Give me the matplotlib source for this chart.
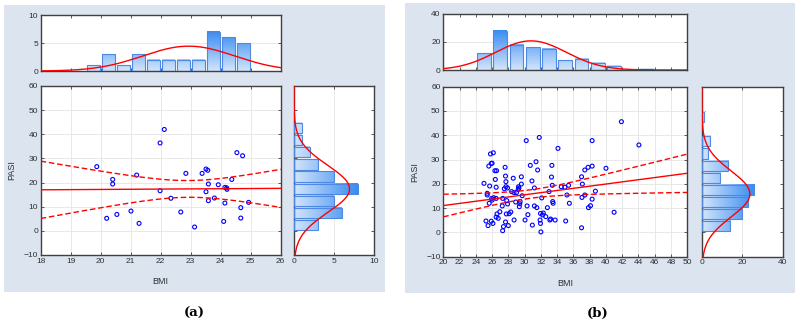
import numpy as np
import matplotlib
matplotlib.use("Agg")
import matplotlib.pyplot as plt
from matplotlib.patches import Rectangle
from matplotlib.colors import LinearSegmentedColormap

plt.rcParams['font.family'] = ['Liberation Sans', 'DejaVu Sans']

# ---- panel (a) data ----
bmi_a = [19.87, 20.2, 20.4, 20.4, 20.54, 21.01, 21.2, 21.28, 21.98, 22.12, 21.98, 22.34,
         22.67, 22.84, 23.13, 23.38, 23.51, 23.57, 23.51, 23.59, 23.59, 23.79, 23.92,
         24.1, 24.14, 24.21, 24.14, 24.37, 24.54, 24.73, 24.67, 24.67, 24.93, 24.2]
pasi_a = [26.6, 5.2, 21.3, 19.4, 6.8, 8.2, 23.1, 3.1, 36.4, 42.0, 16.6, 13.5,
          7.8, 23.8, 1.6, 23.8, 25.6, 25.1, 16.2, 19.4, 12.5, 13.6, 19.1,
          3.9, 18.0, 17.2, 11.5, 21.3, 32.4, 31.1, 9.6, 5.3, 11.8, 17.8]
bmi_edges_a = np.arange(18, 26.01, 0.5)
bmi_counts_a = [0, 0, 0, 1, 3, 1, 3, 2, 2, 2, 2, 7, 6, 5, 0, 0]
pasi_edges_a = np.arange(0, 45.01, 5)
pasi_counts_a = [3, 6, 5, 8, 5, 3, 2, 1, 1]

# ---- panel (b) data ----
bmi_b = [25.0, 25.25, 25.4, 25.4, 25.5, 25.6, 25.7, 25.65, 25.8, 25.9, 25.9, 25.95,
         26.0, 26.1, 26.15, 26.2, 26.35, 26.4, 26.5, 26.55, 26.5, 26.5, 26.6, 26.75, 26.95,
         27.25, 27.3, 27.4, 27.5, 27.6, 27.65, 27.7, 27.7, 27.8, 27.65, 27.75, 27.9, 27.9, 26.0, 27.3,
         28.0, 28.1, 28.3, 28.6, 28.7, 28.7, 29.0, 29.2, 29.25, 29.35, 29.4, 29.45, 29.6, 29.6, 29.7,
         28.4, 29.3, 28.9,
         30.05, 30.2, 30.3, 30.4, 30.7, 30.9, 30.95, 31.2, 31.2, 31.4, 31.5, 31.6, 31.8, 31.9, 31.95, 31.95,
         32.0, 32.1, 32.2, 32.6, 32.8, 33.0, 33.1, 33.3, 33.35, 33.4, 33.45, 33.5, 33.75, 32.3, 33.2,
         34.1, 34.5, 34.95, 35.2, 35.05, 35.4, 35.5,
         37.0, 37.0, 37.05, 37.1, 37.4, 37.4, 37.8, 37.85,
         38.1, 38.3, 38.3, 38.3, 38.7,
         40.0, 41.0, 41.9, 44.05]
pasi_b = [20.2, 4.7, 16.1, 15.4, 2.8, 27.3, 19.1, 12.0, 32.3, 28.4, 4.6, 14.0,
          13.3, 3.7, 32.8, 14.3, 25.4, 21.8, 18.6, 25.4, 14.0, 6.3, 7.6, 5.8, 8.5,
          10.9, 0.7, 2.4, 18.0, 26.8, 23.2, 20.9, 18.8, 13.1, 4.3, 7.6, 18.3, 11.7, 28.5, 14.0,
          2.8, 7.7, 8.4, 22.3, 5.1, 16.4, 16.4, 17.7, 18.8, 10.6, 11.8, 12.7, 22.9, 19.9, 15.1,
          16.8, 18.2, 12.5,
          5.1, 37.8, 10.9, 7.3, 27.6, 21.2, 3.0, 18.3, 10.9, 29.1, 10.2, 25.7, 39.1, 5.1, 7.8, 3.7,
          0.2, 14.2, 7.2, 6.5, 10.2, 16.8, 5.1, 22.8, 27.6, 19.4, 12.7, 12.0, 5.1, 8.0, 5.5,
          34.6, 18.8, 18.6, 15.4, 4.7, 19.4, 12.0,
          1.9, 22.9, 14.4, 19.9, 25.7, 15.4, 26.8, 10.2,
          11.0, 27.3, 37.8, 13.7, 17.0,
          26.4, 8.3, 45.6, 36.0]
bmi_edges_b = np.arange(20, 50.01, 2)
bmi_counts_b = [0, 0, 12, 28, 18, 16, 15, 7, 8, 5, 3, 0, 1, 0, 0]
pasi_edges_b = np.arange(0, 50.01, 5)
pasi_counts_b = [14, 20, 23, 26, 9, 13, 3, 4, 0, 1]

BG = '#dce4ef'
SPINE = '#404040'
GRID = '#e4e4e4'
TXT = '#303030'
cmap = LinearSegmentedColormap.from_list('bars', ['#d2e5fb', '#3a8cf2'])


def style(ax):
    ax.set_facecolor('white')
    for s in ax.spines.values():
        s.set_color(SPINE)
        s.set_linewidth(1.0)
    ax.tick_params(direction='in', length=2.5, width=0.6, colors=SPINE,
                   labelcolor=TXT, labelsize=6, top=True, right=True, pad=2)
    ax.grid(True, color=GRID, lw=0.6)
    ax.set_axisbelow(True)


def bars(ax, edges, counts, horizontal=False, frac=0.84):
    vmax = max(counts)
    for i, c in enumerate(counts):
        if c == 0:
            continue
        w = edges[i + 1] - edges[i]
        a = edges[i] + w * (1 - frac) / 2
        b = a + w * frac
        g = np.linspace(0, c / vmax, 40)
        if horizontal:
            ax.imshow(g.reshape(1, -1), extent=[0, c, a, b], origin='lower', cmap=cmap,
                      vmin=0, vmax=1, aspect='auto', interpolation='bilinear', zorder=2)
            ax.add_patch(Rectangle((0, a), c, b - a, fill=False, ec='#4f88e0', lw=0.8, zorder=3))
        else:
            ax.imshow(g.reshape(-1, 1), extent=[a, b, 0, c], origin='lower', cmap=cmap,
                      vmin=0, vmax=1, aspect='auto', interpolation='bilinear', zorder=2)
            ax.add_patch(Rectangle((a, 0), b - a, c, fill=False, ec='#4f88e0', lw=0.8, zorder=3))


def panel(bg_rect, r_top, r_sc, r_side, x, y, xe, xc, ye, yc, xlim, xticks, ylim_top, yt_top,
          xlim_side, xt_side, tcrit):
    bg = fig.add_axes(bg_rect, zorder=-5)
    bg.set_facecolor(BG)
    bg.set_xticks([])
    bg.set_yticks([])
    for s in bg.spines.values():
        s.set_visible(False)
    x = np.array(x)
    y = np.array(y)

    # top histogram
    at = fig.add_axes(r_top)
    style(at)
    bars(at, xe, xc)
    n = sum(xc)
    bw = xe[1] - xe[0]
    xs = np.linspace(xlim[0], xlim[1], 300)
    m, s = x.mean(), x.std(ddof=1)
    at.plot(xs, n * bw / (s * np.sqrt(2 * np.pi)) * np.exp(-(xs - m) ** 2 / (2 * s * s)),
            color='red', lw=1.0, zorder=4)
    at.set_xlim(xlim)
    at.set_ylim(ylim_top)
    at.set_xticks(xticks)
    at.set_yticks(yt_top)
    at.tick_params(labelbottom=False)
    at.grid(False, axis='x')

    # scatter
    ac = fig.add_axes(r_sc)
    style(ac)
    ac.scatter(x, y, s=8, facecolors='none', edgecolors='#0000ff', linewidths=0.8, zorder=3)
    k, c0 = np.polyfit(x, y, 1)
    yfit = k * xs + c0
    res = y - (k * x + c0)
    se = np.sqrt(np.sum(res ** 2) / (len(x) - 2))
    sxx = np.sum((x - x.mean()) ** 2)
    half = tcrit * se * np.sqrt(1 / len(x) + (xs - x.mean()) ** 2 / sxx)
    ac.plot(xs, yfit, color='red', lw=1.0, zorder=4)
    ac.plot(xs, yfit + half, color='red', lw=1.0, ls=(0, (4, 2)), zorder=4)
    ac.plot(xs, yfit - half, color='red', lw=1.0, ls=(0, (4, 2)), zorder=4)
    ac.set_xlim(xlim)
    ac.set_ylim(-10, 60)
    ac.set_xticks(xticks)
    ac.set_yticks(np.arange(-10, 61, 10))
    ac.set_xlabel('BMI', fontsize=6.5, color=TXT, labelpad=9)
    ac.set_ylabel('PASI', fontsize=6.5, color=TXT, labelpad=5)

    # side histogram
    asd = fig.add_axes(r_side)
    style(asd)
    bars(asd, ye, yc, horizontal=True)
    n2 = sum(yc)
    bw2 = ye[1] - ye[0]
    ys = np.linspace(-10, 60, 300)
    m2, s2 = y.mean(), y.std(ddof=1)
    asd.plot(n2 * bw2 / (s2 * np.sqrt(2 * np.pi)) * np.exp(-(ys - m2) ** 2 / (2 * s2 * s2)), ys,
             color='red', lw=1.0, zorder=4)
    asd.set_ylim(-10, 60)
    asd.set_xlim(xlim_side)
    asd.set_xticks(xt_side)
    asd.set_yticks(np.arange(-10, 61, 10))
    asd.tick_params(labelleft=False)
    asd.grid(False, axis='y')


fig = plt.figure(figsize=(7.99, 3.25), dpi=100)

panel([4 / 799, 1 - 292 / 325, 381 / 799, 287 / 325],
      [0.0509, 0.7815, 0.3008, 0.1723], [0.0509, 0.2154, 0.3004, 0.52], [0.368, 0.2154, 0.1001, 0.52],
      bmi_a, pasi_a, bmi_edges_a, bmi_counts_a, pasi_edges_a, pasi_counts_a,
      (18, 26), np.arange(18, 27, 1), (0, 10), [0, 5, 10], (0, 10), [0, 5, 10], 2.04)

panel([405 / 799, 1 - 293 / 325, 390 / 799, 290 / 325],
      [0.5548, 0.7846, 0.3054, 0.1733], [0.5548, 0.2102, 0.3054, 0.523], [0.8786, 0.2102, 0.101, 0.523],
      bmi_b, pasi_b, bmi_edges_b, bmi_counts_b, pasi_edges_b, pasi_counts_b,
      (20, 50), np.arange(20, 51, 2), (0, 40), [0, 20, 40], (0, 40), [0, 20, 40], 1.98)

fig.text(194 / 799, 1 - 313 / 325, '(a)', ha='center', va='center', fontsize=9.5,
         fontweight='bold', family='DejaVu Serif', color='black')
fig.text(598 / 799, 1 - 313 / 325, '(b)', ha='center', va='center', fontsize=9.5,
         fontweight='bold', family='DejaVu Serif', color='black')

fig.savefig('out.png', dpi=100)
